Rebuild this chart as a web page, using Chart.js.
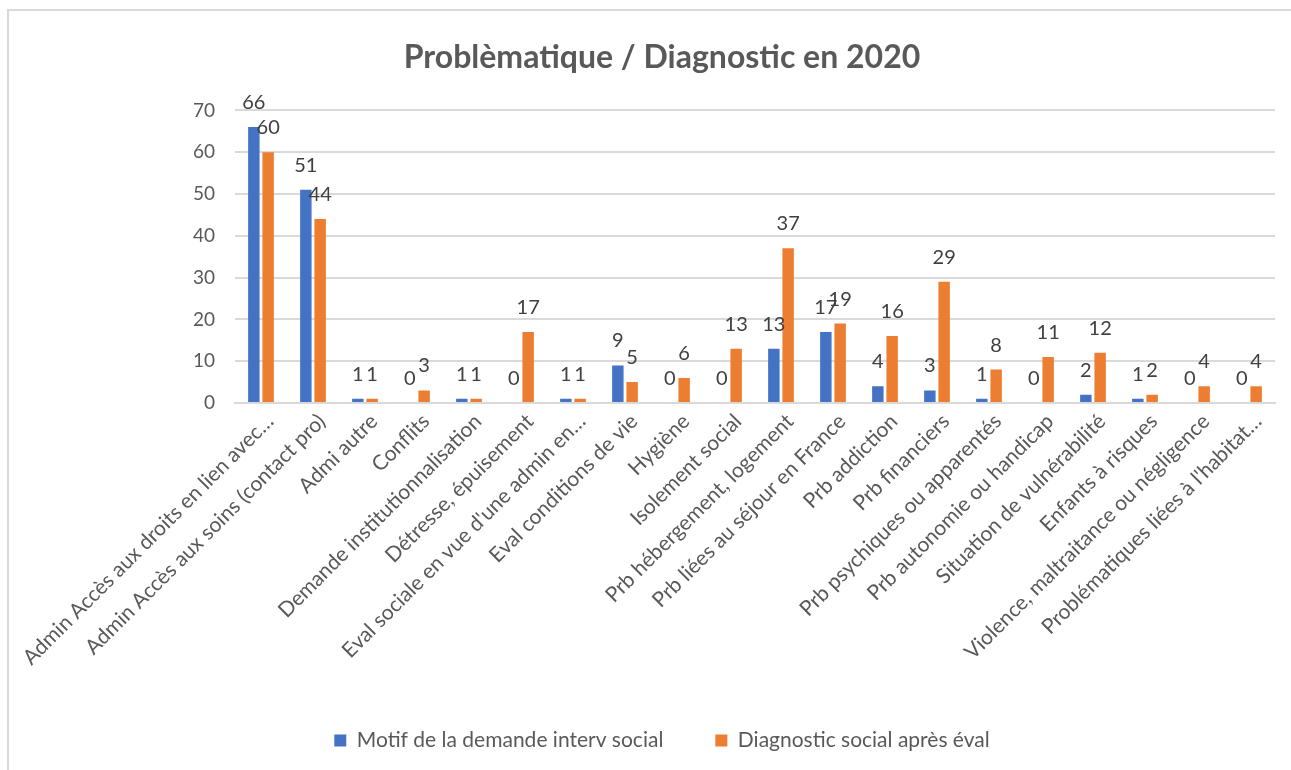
<!DOCTYPE html>
<html>
<head>
<meta charset="utf-8">
<script src="https://cdn.jsdelivr.net/npm/chart.js@4/dist/chart.umd.min.js"></script>
<style>
  html, body { margin: 0; padding: 0; background: #ffffff; }
  #wrap { position: absolute; left: 0; top: 0; width: 1291px; height: 770px; }
</style>
</head>
<body>
<div id="wrap"><canvas id="c" width="1291" height="770"></canvas></div>
<script>
const categories = [
  "Admin Accès aux droits en lien avec…",
  "Admin Accès aux soins (contact pro)",
  "Admi autre",
  "Conflits",
  "Demande institutionnalisation",
  "Détresse, épuisement",
  "Eval sociale en vue d'une admin en…",
  "Eval conditions de vie",
  "Hygiène",
  "Isolement social",
  "Prb hébergement, logement",
  "Prb liées au séjour en France",
  "Prb addiction",
  "Prb financiers",
  "Prb psychiques ou apparentés",
  "Prb autonomie ou handicap",
  "Situation de vulnérabilité",
  "Enfants à risques",
  "Violence, maltraitance ou négligence",
  "Problématiques liées à l'habitat…"
];
const motifValues = [66, 51, 1, 0, 1, 0, 1, 9, 0, 0, 13, 17, 4, 3, 1, 0, 2, 1, 0, 0];
const diagnosticValues = [60, 44, 1, 3, 1, 17, 1, 5, 6, 13, 37, 19, 16, 29, 8, 11, 12, 2, 4, 4];
const seriesNames = ["Motif de la demande interv social", "Diagnostic social après éval"];
const yTicks = [0, 10, 20, 30, 40, 50, 60, 70];
const titleText = "Problèmatique / Diagnostic en 2020";

const FONT = "Lato, 'Open Sans', sans-serif";
const GREY = "#595959";

const frame = {
  id: 'frame',
  beforeDraw(chart) {
    const ctx = chart.ctx;
    ctx.save();
    ctx.fillStyle = '#ffffff';
    ctx.fillRect(0, 0, chart.width, chart.height);
    ctx.strokeStyle = '#d9d9d9';
    ctx.lineWidth = 2;
    ctx.beginPath();
    ctx.moveTo(8, chart.height);
    ctx.lineTo(8, 10);
    ctx.lineTo(chart.width, 10);
    ctx.stroke();
    ctx.restore();
  }
};

const valueLabels = {
  id: 'valueLabels',
  afterDatasetsDraw(chart) {
    const ctx = chart.ctx;
    ctx.save();
    ctx.font = "20px " + FONT;
    ctx.fillStyle = "#404040";
    ctx.textAlign = 'center';
    ctx.textBaseline = 'alphabetic';
    chart.data.datasets.forEach((ds, di) => {
      const meta = chart.getDatasetMeta(di);
      meta.data.forEach((el, i) => {
        ctx.fillText(String(ds.data[i]), el.x, el.y - 18);
      });
    });
    ctx.restore();
  }
};

new Chart(document.getElementById('c'), {
  type: 'bar',
  data: {
    labels: categories,
    datasets: [
      { label: seriesNames[0], data: motifValues, backgroundColor: '#4472C4', categoryPercentage: 0.55, barPercentage: 0.8 },
      { label: seriesNames[1], data: diagnosticValues, backgroundColor: '#ED7D31', categoryPercentage: 0.55, barPercentage: 0.8 }
    ]
  },
  options: {
    responsive: false,
    animation: false,
    devicePixelRatio: 1,
    layout: { padding: { left: 49, right: 16, top: 0, bottom: 9 } },
    plugins: {
      title: {
        display: true,
        text: titleText,
        color: GREY,
        font: { family: FONT, size: 32, weight: 'bold' },
        padding: { top: 38, bottom: 34 }
      },
      legend: {
        display: true,
        position: 'bottom',
        labels: {
          color: GREY,
          font: { family: FONT, size: 21 },
          boxWidth: 12,
          boxHeight: 12,
          padding: 52
        }
      },
      tooltip: { enabled: false }
    },
    scales: {
      x: {
        afterFit(scale) { scale.height = 275; },
        grid: { display: false },
        border: { display: true, color: '#d9d9d9', width: 2 },
        ticks: {
          color: GREY,
          font: { family: FONT, size: 21 },
          minRotation: 45,
          maxRotation: 45,
          autoSkip: false,
          padding: -2,
          labelOffset: 9
        }
      },
      y: {
        min: 0,
        max: 70,
        afterFit(scale) { scale.width = 186; },
        afterBuildTicks(scale) { scale.ticks = yTicks.map(v => ({ value: v })); },
        grid: { color: '#d9d9d9', lineWidth: 2, drawTicks: false },
        border: { display: false },
        ticks: {
          color: GREY,
          font: { family: FONT, size: 19 },
          padding: 20
        }
      }
    }
  },
  plugins: [frame, valueLabels]
});
</script>
</body>
</html>
